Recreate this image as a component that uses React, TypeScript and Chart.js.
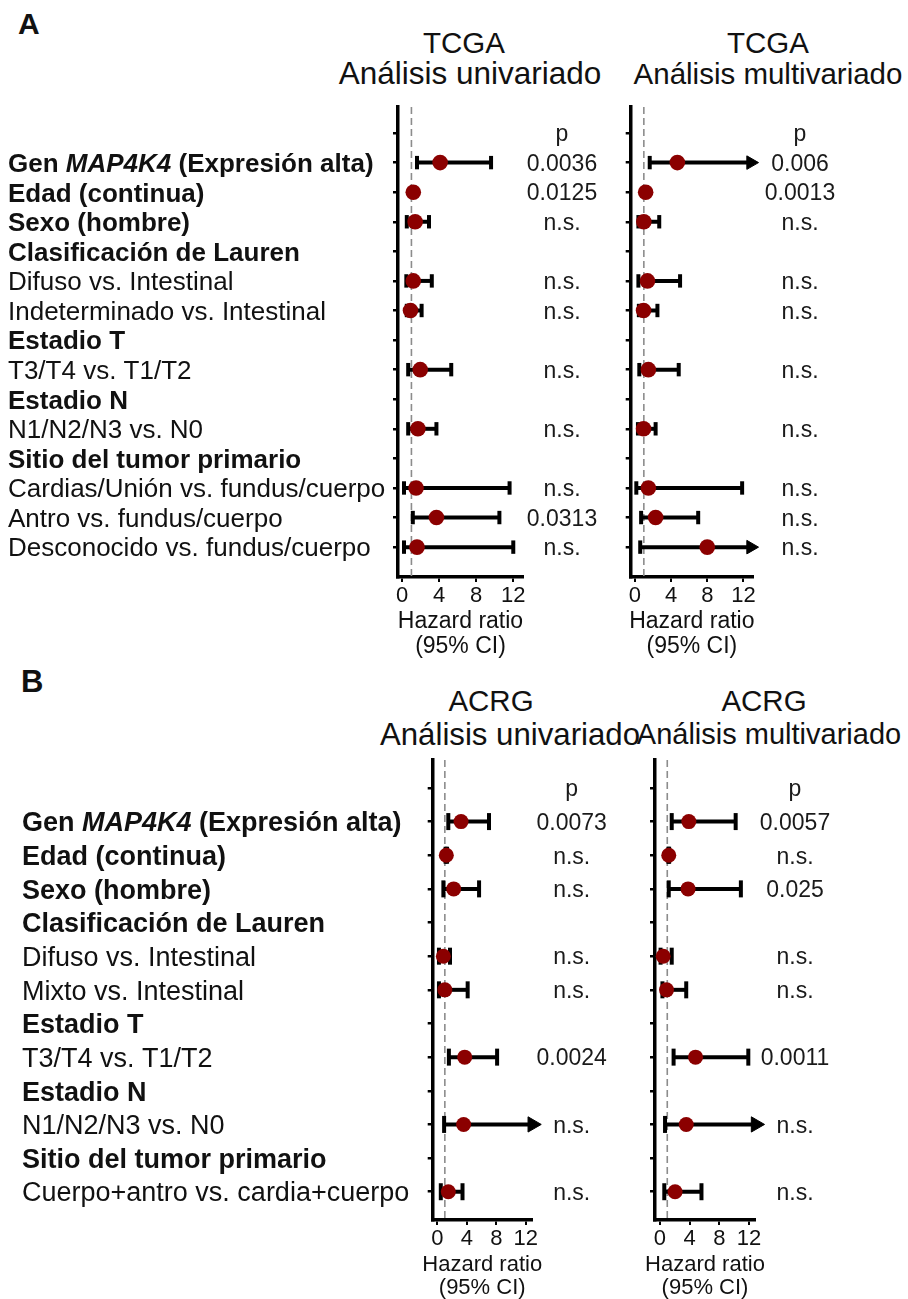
import React, { useEffect, useRef } from 'react';
import { Chart, registerables } from 'chart.js';

Chart.register(...registerables);

const FONT = "'Liberation Sans', Arial, Helvetica, sans-serif";
const RED = '#8b0000';

// ---------- Panel A (TCGA) ----------
const rowsA = [
  '',
  'Gen *MAP4K4* (Expresión alta)',
  'Edad (continua)',
  'Sexo (hombre)',
  'Clasificación de Lauren',
  'Difuso vs. Intestinal',
  'Indeterminado vs. Intestinal',
  'Estadio T',
  'T3/T4 vs. T1/T2',
  'Estadio N',
  'N1/N2/N3 vs. N0',
  'Sitio del tumor primario',
  'Cardias/Unión vs. fundus/cuerpo',
  'Antro vs. fundus/cuerpo',
  'Desconocido vs. fundus/cuerpo',
];
const boldA = [false, true, true, true, true, false, false, true, false, true, false, true, false, false, false];

const OFF = Infinity; // upper CI beyond the axis (drawn as an arrow)

const hrAUni = [null, 4.1, 1.2, 1.4, null, 1.2, 0.9, null, 1.95, null, 1.7, null, 1.5, 3.7, 1.6];
const loAUni = [null, 1.6, 1.1, 0.5, null, 0.45, 0.5, null, 0.65, null, 0.65, null, 0.2, 1.15, 0.2];
const hiAUni = [null, 9.6, 1.3, 2.9, null, 3.2, 2.1, null, 5.3, null, 3.7, null, 11.6, 10.5, 12.0];
const pAUni = ['p', '0.0036', '0.0125', 'n.s.', '', 'n.s.', 'n.s.', '', 'n.s.', '', 'n.s.', '', 'n.s.', '0.0313', 'n.s.'];

const hrAMulti = [null, 4.7, 1.2, 1.0, null, 1.4, 0.97, null, 1.5, null, 0.97, null, 1.5, 2.3, 8.0];
const loAMulti = [null, 1.65, 1.1, 0.4, null, 0.4, 0.45, null, 0.5, null, 0.35, null, 0.17, 0.7, 0.6];
const hiAMulti = [null, OFF, 1.3, 2.7, null, 5.0, 2.5, null, 4.85, null, 2.3, null, 11.85, 7.0, OFF];
const pAMulti = ['p', '0.006', '0.0013', 'n.s.', '', 'n.s.', 'n.s.', '', 'n.s.', '', 'n.s.', '', 'n.s.', 'n.s.', 'n.s.'];

// ---------- Panel B (ACRG) ----------
const rowsB = [
  '',
  'Gen *MAP4K4* (Expresión alta)',
  'Edad (continua)',
  'Sexo (hombre)',
  'Clasificación de Lauren',
  'Difuso vs. Intestinal',
  'Mixto vs. Intestinal',
  'Estadio T',
  'T3/T4 vs. T1/T2',
  'Estadio N',
  'N1/N2/N3 vs. N0',
  'Sitio del tumor primario',
  'Cuerpo+antro vs. cardia+cuerpo',
];
const boldB = [false, true, true, true, true, false, false, true, false, true, false, true, false];

const hrBUni = [null, 3.2, 1.2, 2.2, null, 0.8, 1.0, null, 3.7, null, 3.55, null, 1.47];
const loBUni = [null, 1.47, 1.1, 0.8, null, 0.2, 0.2, null, 1.55, null, 0.9, null, 0.45];
const hiBUni = [null, 7.0, 1.3, 5.65, null, 1.7, 4.1, null, 8.1, null, OFF, null, 3.4];
const pBUni = ['p', '0.0073', 'n.s.', 'n.s.', '', 'n.s.', 'n.s.', '', '0.0024', '', 'n.s.', '', 'n.s.'];

const hrBMulti = [null, 3.9, 1.2, 3.8, null, 0.45, 0.9, null, 4.8, null, 3.55, null, 2.05];
const loBMulti = [null, 1.6, 1.15, 1.2, null, 0.1, 0.35, null, 1.85, null, 0.7, null, 0.6];
const hiBMulti = [null, 10.2, 1.25, 10.9, null, 1.6, 3.55, null, 11.9, null, OFF, null, 5.6];
const pBMulti = ['p', '0.0057', 'n.s.', '0.025', '', 'n.s.', 'n.s.', '', '0.0011', '', 'n.s.', '', 'n.s.'];

const xTicks = [0, 4, 8, 12];
const xTitle = ['Hazard ratio', '(95% CI)'];
const refLine = 1;

type Spec = {
  rows: string[];
  bold: boolean[];
  hr: (number | null)[];
  lo: (number | null)[];
  hi: (number | null)[];
  p: string[];
  showLabels: boolean;
  labelX: number;
  labelSize: number;
  pOffset: number;
  xMin: number;
  xMax: number;
  yMin: number;
  yMax: number;
  arrowEnd: number;
  pointR: number;
  capR: number;
  triR: number;
  titleSize: number;
  titleLine: number;
  padding: { left: number; right: number; top: number; bottom: number };
};

const AXIS_BLOCK = 33; // tick length + tick label + tick padding

function drawRich(ctx: CanvasRenderingContext2D, text: string, x: number, y: number, bold: boolean, size: number) {
  let cx = x;
  text.split('*').forEach((seg, k) => {
    const italic = k % 2 === 1;
    ctx.font = `${italic ? 'italic ' : ''}${bold ? 'bold ' : ''}${size}px ${FONT}`;
    ctx.fillText(seg, cx, y);
    cx += ctx.measureText(seg).width;
  });
}

function buildConfig(s: Spec): any {
  const datasets: any[] = [];
  const pts: any[] = [];
  s.hr.forEach((v, i) => {
    if (v != null) pts.push({ x: v, y: i });
  });
  datasets.push({
    label: 'HR',
    data: pts,
    showLine: false,
    pointRadius: s.pointR,
    pointBackgroundColor: RED,
    pointBorderColor: RED,
    pointBorderWidth: 0,
    order: 0,
    clip: false,
  });
  s.lo.forEach((lo, i) => {
    const hi = s.hi[i];
    if (lo == null || hi == null) return;
    const arrow = hi > s.arrowEnd;
    datasets.push({
      label: 'CI' + i,
      data: [
        { x: lo, y: i },
        { x: arrow ? s.arrowEnd : hi, y: i },
      ],
      showLine: true,
      borderColor: '#000',
      borderWidth: 4,
      pointStyle: ['line', arrow ? 'triangle' : 'line'],
      pointRotation: 90,
      pointRadius: [s.capR, arrow ? s.triR : s.capR],
      pointBorderWidth: [4, arrow ? 1 : 4],
      pointBackgroundColor: '#000',
      pointBorderColor: '#000',
      order: 1,
      clip: false,
    });
  });
  datasets.push({
    label: 'ref',
    data: [
      { x: refLine, y: s.yMin },
      { x: refLine, y: s.yMax },
    ],
    showLine: true,
    borderColor: '#8c8c8c',
    borderWidth: 1.6,
    borderDash: [7, 4],
    pointRadius: 0,
    order: 2,
  });

  const textPlugin = {
    id: 'rowText',
    afterDraw(chart: any) {
      const ctx: CanvasRenderingContext2D = chart.ctx;
      const ys = chart.scales.y;
      const area = chart.chartArea;
      ctx.save();
      ctx.textBaseline = 'alphabetic';
      if (s.showLabels) {
        ctx.fillStyle = '#111';
        ctx.textAlign = 'left';
        s.rows.forEach((lab, i) => {
          if (!lab) return;
          const y = ys.getPixelForValue(i) + s.labelSize * 0.36;
          drawRich(ctx, lab, s.labelX, y, s.bold[i], s.labelSize);
        });
      }
      ctx.fillStyle = '#1a1a1a';
      ctx.textAlign = 'center';
      ctx.font = `23px ${FONT}`;
      const px = area.right + s.pOffset;
      s.p.forEach((t, i) => {
        if (!t) return;
        const y = ys.getPixelForValue(i) + 23 * 0.36;
        ctx.fillText(t, px, y);
      });
      // x-axis title (two lines, not width-limited)
      ctx.fillStyle = '#111';
      ctx.font = `${s.titleSize}px ${FONT}`;
      ctx.textBaseline = 'middle';
      const cx = (area.left + area.right) / 2;
      xTitle.forEach((t, k) => {
        ctx.fillText(t, cx, area.bottom + AXIS_BLOCK + s.titleLine * (k + 0.5));
      });
      ctx.restore();
    },
  };

  return {
    type: 'scatter',
    data: { datasets },
    options: {
      animation: false,
      responsive: false,
      devicePixelRatio: 1,
      events: [],
      layout: { padding: s.padding },
      plugins: { legend: { display: false }, tooltip: { enabled: false }, title: { display: false } },
      scales: {
        x: {
          type: 'linear',
          min: s.xMin,
          max: s.xMax,
          afterBuildTicks: (sc: any) => {
            sc.ticks = xTicks.map((v) => ({ value: v }));
          },
          ticks: {
            font: { family: FONT, size: 22, lineHeight: 1 },
            color: '#111',
            padding: 3,
            maxRotation: 0,
            autoSkip: false,
          },
          grid: { display: true, drawOnChartArea: false, drawTicks: true, tickLength: 5, lineWidth: 2, color: '#000' },
          border: { display: true, color: '#000', width: 3.5 },
          title: { display: false },
        },
        y: {
          type: 'linear',
          reverse: true,
          min: s.yMin,
          max: s.yMax,
          afterBuildTicks: (sc: any) => {
            sc.ticks = s.rows.map((_, i) => ({ value: i }));
          },
          ticks: { display: false },
          grid: { display: true, drawOnChartArea: false, drawTicks: true, tickLength: 5, lineWidth: 2.5, color: '#000' },
          border: { display: true, color: '#000', width: 3.5 },
        },
      },
    },
    plugins: [textPlugin],
  };
}

function ForestChart(props: { left: number; top: number; width: number; height: number; spec: Spec }) {
  const ref = useRef<HTMLCanvasElement>(null);
  useEffect(() => {
    const chart = new Chart(ref.current as HTMLCanvasElement, buildConfig(props.spec));
    return () => chart.destroy();
  }, []);
  return (
    <canvas
      ref={ref}
      width={props.width}
      height={props.height}
      style={{ position: 'absolute', left: props.left, top: props.top, width: props.width, height: props.height }}
    />
  );
}

const commonA = { xMin: -0.45, xMax: 13.05, yMin: -0.88, yMax: 15.01, arrowEnd: 12.8, pointR: 7.8, capR: 6.7, triR: 7.8, titleSize: 23, titleLine: 24.2 };
const commonB = { xMin: -0.65, xMax: 12.8, yMin: -0.83, yMax: 12.84, arrowEnd: 12.9, pointR: 7.5, capR: 8.5, triR: 8.8, titleSize: 22, titleLine: 23.2 };

const specAUni: Spec = {
  ...commonA, rows: rowsA, bold: boldA, hr: hrAUni, lo: loAUni, hi: hiAUni, p: pAUni,
  showLabels: true, labelX: 8, labelSize: 26, pOffset: 39,
  padding: { left: 393, right: 97, top: 107, bottom: 70 },
};
const specAMulti: Spec = {
  ...commonA, rows: rowsA, bold: boldA, hr: hrAMulti, lo: loAMulti, hi: hiAMulti, p: pAMulti,
  showLabels: false, labelX: 0, labelSize: 26, pOffset: 47,
  padding: { left: 4, right: 155, top: 107, bottom: 70 },
};
const specBUni: Spec = {
  ...commonB, rows: rowsB, bold: boldB, hr: hrBUni, lo: loBUni, hi: hiBUni, p: pBUni,
  showLabels: true, labelX: 22, labelSize: 27, pOffset: 40,
  padding: { left: 427.7, right: 88.3, top: 100, bottom: 47 },
};
const specBMulti: Spec = {
  ...commonB, rows: rowsB, bold: boldB, hr: hrBMulti, lo: loBMulti, hi: hiBMulti, p: pBMulti,
  showLabels: false, labelX: 0, labelSize: 27, pOffset: 40,
  padding: { left: 30, right: 153, top: 100, bottom: 47 },
};

function Title(props: { text: string; cx: number; top: number; size: number; bold?: boolean; left?: number }) {
  const style: React.CSSProperties = {
    position: 'absolute',
    top: props.top,
    fontFamily: FONT,
    fontSize: props.size,
    lineHeight: `${props.size}px`,
    fontWeight: props.bold ? 'bold' : 'normal',
    color: '#111',
    whiteSpace: 'nowrap',
  };
  if (props.left != null) {
    style.left = props.left;
  } else {
    style.left = props.cx - 200;
    style.width = 400;
    style.textAlign = 'center';
  }
  return <div style={style}>{props.text}</div>;
}

export default function App() {
  return (
    <div style={{ position: 'absolute', left: 0, top: 0, width: 908, height: 1299, overflow: 'hidden', background: '#fff' }}>
      <Title text="A" cx={0} left={18} top={9} size={30} bold />
      <Title text="B" cx={0} left={21} top={666} size={31} bold />

      <Title text="TCGA" cx={464} top={28} size={29.5} />
      <Title text="Análisis univariado" cx={470} top={58} size={31.5} />
      <Title text="TCGA" cx={768} top={28} size={29.5} />
      <Title text="Análisis multivariado" cx={768} top={59} size={29.5} />

      <Title text="ACRG" cx={491} top={686} size={29.5} />
      <Title text="Análisis univariado" cx={510} top={719} size={31.2} />
      <Title text="ACRG" cx={764} top={686} size={29.5} />
      <Title text="Análisis multivariado" cx={769} top={720} size={29} />

      <ForestChart left={0} top={0} width={620} height={680} spec={specAUni} />
      <ForestChart left={620} top={0} width={288} height={680} spec={specAMulti} />
      <ForestChart left={0} top={660} width={620} height={640} spec={specBUni} />
      <ForestChart left={620} top={660} width={288} height={640} spec={specBMulti} />
    </div>
  );
}
